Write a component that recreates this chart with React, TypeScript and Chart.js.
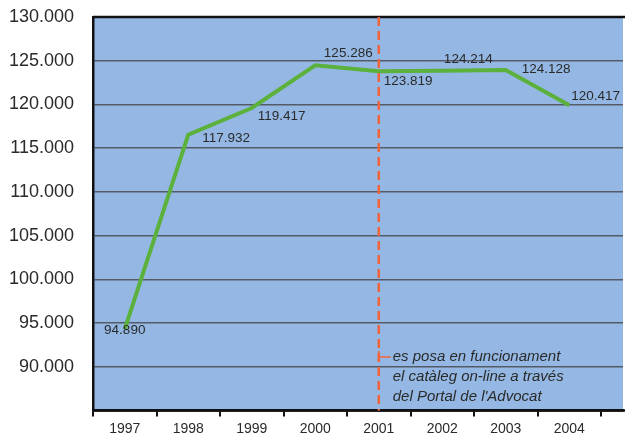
import React, { useEffect, useRef } from "react";
import { Chart, registerables } from "chart.js";

Chart.register(...registerables);

const years = ["1997", "1998", "1999", "2000", "2001", "2002", "2003", "2004"];
// plotted line values (as drawn)
const lineValues = [94300, 116540, 119590, 124470, 123790, 123850, 123940, 119900];
// printed value labels
const valueLabels = ["94.890", "117.932", "119.417", "125.286", "123.819", "124.214", "124.128", "120.417"];
const yTicks = [85000, 90000, 95000, 100000, 105000, 110000, 115000, 120000, 125000, 130000];
const annotationYear = "2001";
const annotationLines = [
  "es posa en funcionament",
  "el catàleg on-line a través",
  "del Portal de l'Advocat",
];

const FONT = "'Liberation Sans', Arial, Helvetica, sans-serif";
// label placement relative to the point (style, not data)
const labelOffsets: [number, number, CanvasTextAlign][] = [
  [0, 1, "center"],
  [14, 4, "left"],
  [6, 8, "left"],
  [33, -12, "center"],
  [5, 10, "left"],
  [26, -11, "center"],
  [16, -1, "left"],
  [2, -9, "left"],
];

const fmt = (v: number) => (v / 1000).toFixed(3);

export default function App() {
  const ref = useRef<HTMLCanvasElement | null>(null);
  useEffect(() => {
    if (!ref.current) return;
    const bgPlugin = {
      id: "bg",
      beforeDraw(chart: any) {
        const { ctx, chartArea: a } = chart;
        ctx.save();
        ctx.fillStyle = "#94b8e3";
        ctx.fillRect(a.left, a.top, a.right - a.left, a.bottom - a.top);
        ctx.restore();
      },
    };
    const overlayPlugin = {
      id: "overlay",
      afterDraw(chart: any) {
        const { ctx, chartArea: a, scales } = chart;
        ctx.save();
        ctx.strokeStyle = "#111";
        ctx.lineWidth = 2.5;
        ctx.beginPath();
        ctx.moveTo(a.left, a.top);
        ctx.lineTo(a.right + 2, a.top);
        ctx.stroke();
        ctx.beginPath();
        ctx.moveTo(a.left, a.bottom);
        ctx.lineTo(a.right + 2, a.bottom);
        ctx.stroke();
        const idx = years.indexOf(annotationYear);
        const x = scales.x.getPixelForValue(idx + 0.5);
        ctx.strokeStyle = "#f0643a";
        ctx.lineWidth = 2.5;
        ctx.setLineDash([9, 5]);
        ctx.beginPath();
        ctx.moveTo(x, a.top);
        ctx.lineTo(x, a.bottom);
        ctx.stroke();
        ctx.setLineDash([]);
        const ty = 357;
        ctx.lineWidth = 1.5;
        ctx.beginPath();
        ctx.moveTo(x, ty - 6);
        ctx.lineTo(x, ty);
        ctx.lineTo(x + 12, ty);
        ctx.stroke();
        ctx.fillStyle = "#2a2a2a";
        ctx.font = `italic 15px ${FONT}`;
        ctx.textAlign = "left";
        ctx.textBaseline = "middle";
        annotationLines.forEach((t, i) => ctx.fillText(t, x + 14, ty + i * 19.7));
        const meta = chart.getDatasetMeta(0);
        ctx.font = `13.5px ${FONT}`;
        ctx.fillStyle = "#2a2a2a";
        meta.data.forEach((p: any, i: number) => {
          const [dx, dy, al] = labelOffsets[i];
          ctx.textAlign = al;
          ctx.fillText(valueLabels[i], p.x + dx, p.y + dy);
        });
        ctx.restore();
      },
    };
    const chart = new Chart(ref.current, {
      type: "line",
      data: {
        datasets: [
          {
            data: lineValues.map((v, i) => ({ x: i + 0.5, y: v })),
            borderColor: "#5bb13c",
            borderWidth: 4,
            pointRadius: 0,
            tension: 0,
            fill: false,
          },
        ],
      },
      options: {
        animation: false,
        responsive: false,
        maintainAspectRatio: false,
        layout: { padding: { top: 17, right: 17, left: 0, bottom: 0 } },
        plugins: { legend: { display: false }, tooltip: { enabled: false } },
        scales: {
          x: {
            type: "linear",
            min: 0,
            max: 8.346,
            afterBuildTicks: (s: any) => {
              s.ticks = years.map((_, i) => ({ value: i })).concat([{ value: years.length }]);
            },
            afterFit: (s: any) => {
              s.height = 28.5;
              s.paddingTop = 0;
              s.paddingBottom = 0;
              s.paddingLeft = 0;
              s.paddingRight = 0;
            },
            grid: {
              drawOnChartArea: false,
              drawTicks: true,
              tickLength: 6,
              color: "#111",
              lineWidth: 2,
            },
            border: { display: true, color: "#111", width: 2.5 },
            ticks: {
              autoSkip: false,
              maxRotation: 0,
              labelOffset: 31.75,
              padding: 4,
              color: "#2a2a2a",
              font: { family: FONT, size: 14 },
              callback: (v: any) => (years[v] !== undefined ? years[v] : ""),
            },
          },
          y: {
            min: yTicks[0],
            max: yTicks[yTicks.length - 1],
            afterBuildTicks: (s: any) => {
              s.ticks = yTicks.map((v) => ({ value: v }));
            },
            afterFit: (s: any) => {
              s.width = 93;
              s.paddingTop = 0;
              s.paddingBottom = 0;
              s.paddingLeft = 0;
              s.paddingRight = 0;
            },
            grid: { color: "#555b66", lineWidth: 1.5, drawTicks: false },
            border: { display: true, color: "#111", width: 2.5 },
            ticks: {
              padding: 19,
              color: "#2a2a2a",
              font: { family: FONT, size: 18 },
              callback: (v: any) => (v === yTicks[0] ? "" : fmt(v)),
            },
          },
        },
      },
      plugins: [bgPlugin, overlayPlugin],
    });
    return () => chart.destroy();
  }, []);
  return (
    <div style={{ position: "fixed", left: 0, top: 0, width: 640, height: 439, background: "#fff" }}>
      <canvas ref={ref} width={640} height={439} style={{ width: 640, height: 439 }} />
    </div>
  );
}
